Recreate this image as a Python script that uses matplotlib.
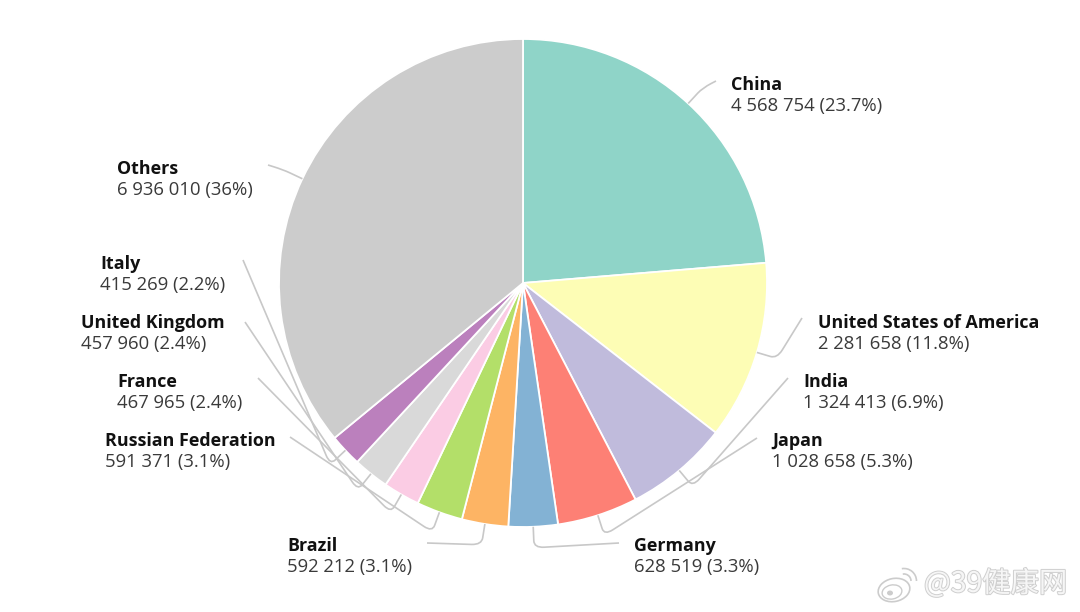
import matplotlib
matplotlib.use('Agg')
import matplotlib.pyplot as plt
import matplotlib.patheffects as pe
from matplotlib.patches import Ellipse, Arc, PathPatch
from matplotlib.path import Path
import numpy as np

plt.rcParams['font.family'] = ['Open Sans', 'DejaVu Sans']

countries = ['China', 'United States of America', 'India', 'Japan', 'Germany', 'Brazil',
             'Russian Federation', 'France', 'United Kingdom', 'Italy', 'Others']
cases = [4568754, 2281658, 1324413, 1028658, 628519, 592212,
         591371, 467965, 457960, 415269, 6936010]
shares = ['23.7%', '11.8%', '6.9%', '5.3%', '3.3%', '3.1%',
          '3.1%', '2.4%', '2.4%', '2.2%', '36%']
colors = ['#8fd4c8', '#fdfdb5', '#c0bbdc', '#fd8075', '#83b2d4', '#fdb464',
          '#b3df69', '#fbcce4', '#d9d9d9', '#bb80bd', '#cccccc']

# label left edge and name line baseline, in image pixels
label_x = [731, 818, 803, 772, 634, 287, 105, 117, 81, 100, 117]
label_y = [90, 328, 387, 446, 551, 551, 446, 387, 328, 269, 174]
# where each leader line stops
line_ends = [(716, 81), (802, 318), (788, 378), (757, 438), (619, 543), (427, 543),
             (290, 437), (258, 378), (245, 322), (243, 260), (268, 165)]

W, H = 1080, 612
CX, CY, R = 523, 283, 244


def flip(y):
    return H - y


def leader(ax, theta, end):
    # radial out of the slice, small rounded elbow, then over to the label
    a = np.radians(theta)
    u = np.array([np.cos(a), np.sin(a)])
    c = np.array([CX, flip(CY)])
    start = c + u * R
    elbow = c + u * (R + 21)
    stop = np.array([end[0], flip(end[1])])
    out = (stop - elbow) / np.hypot(*(stop - elbow))
    before = elbow - u * 7
    after = elbow + out * 10
    verts = [start, before, elbow, after, stop]
    codes = [Path.MOVETO, Path.LINETO, Path.CURVE3, Path.CURVE3, Path.LINETO]
    ax.add_patch(PathPatch(Path(verts, codes), fill=False, ec='#c8c8c8', lw=1.2, zorder=1))


fig = plt.figure(figsize=(W / 100, H / 100), dpi=100)
ax = fig.add_axes([0, 0, 1, 1])

wedges, _ = ax.pie(cases, colors=colors, startangle=90, counterclock=False,
                   center=(CX, flip(CY)), radius=R,
                   wedgeprops={'edgecolor': 'white', 'linewidth': 1.3})
ax.set_xlim(0, W)
ax.set_ylim(0, H)
ax.set_aspect('equal')
ax.axis('off')

for i, w in enumerate(wedges):
    leader(ax, (w.theta1 + w.theta2) / 2, line_ends[i])
    amount = f'{cases[i]:,}'.replace(',', ' ')
    ax.text(label_x[i], flip(label_y[i]), countries[i], fontsize=12.9, fontweight='bold',
            color='#111111', ha='left', va='baseline')
    ax.text(label_x[i], flip(label_y[i] + 21), f'{amount} ({shares[i]})', fontsize=13.3,
            color='#3a3a3a', ha='left', va='baseline')

# weibo watermark
mark = '#cccccc'
ax.add_patch(Ellipse((894, flip(590)), 32, 23, angle=12, fill=False, ec=mark, lw=1.2))
ax.add_patch(Ellipse((892, flip(592)), 20, 14, angle=12, fill=False, ec=mark, lw=1))
ax.add_patch(Ellipse((890, flip(593)), 6, 5, fc=mark, ec='none'))
ax.add_patch(Arc((904, flip(581)), 14, 14, theta1=0, theta2=100, ec=mark, lw=1.2))
ax.add_patch(Arc((904, flip(581)), 25, 25, theta1=0, theta2=100, ec=mark, lw=1.2))
ax.text(924, flip(592), '@39健康网', fontsize=20.4, color='#f6f6f6', ha='left', va='baseline',
        family=['Noto Sans CJK SC', 'DejaVu Sans'],
        path_effects=[pe.withStroke(linewidth=1.4, foreground='#cfcfcf')])

fig.savefig('out.png', dpi=100)
